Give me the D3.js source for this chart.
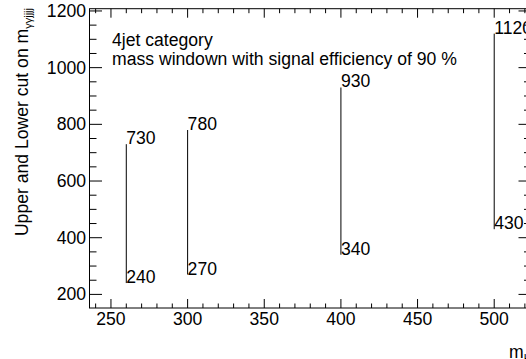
<!DOCTYPE html>
<html>
<head>
<meta charset="utf-8">
<script src="https://cdn.jsdelivr.net/npm/d3@7"></script>
<style>
  body { margin: 0; background: #fff; }
  text { font-family: "Liberation Sans", Arial, sans-serif; fill: #000; }
</style>
</head>
<body>
<div class="canvas"></div>
<script>
// mass points and cut values
const masses = [260, 300, 400, 500];
const lowerCut = [240, 270, 340, 430];
const upperCut = [730, 780, 930, 1120];
const xTicks = [250, 300, 350, 400, 450, 500];
const yTicks = [200, 400, 600, 800, 1000, 1200];
const textLines = ['4jet category', 'mass windown with signal efficiency of 90 %'];

const dim = { width: 526, height: 359 };
const frame = { left: 89.5, right: 531, top: 8.7, bottom: 308 };
const fs = '17.6px';

const svg = d3.select('.canvas').append('svg')
    .attr('width', dim.width)
    .attr('height', dim.height);

const x = d3.scaleLinear().domain([236, 524]).range([frame.left, frame.right]);
const y = d3.scaleLinear().domain([152, 1208]).range([frame.bottom, frame.top]);

// frame
svg.append('rect')
    .attr('x', frame.left).attr('y', frame.top)
    .attr('width', frame.right - frame.left)
    .attr('height', frame.bottom - frame.top)
    .attr('fill', 'none').attr('stroke', '#000').attr('stroke-width', 1);

// ticks: major + minor on all four sides, pointing inward
const xMinor = d3.range(240, 525, 10);
const yMinor = d3.range(200, 1208, 50);
const ticks = svg.append('g').attr('stroke', '#000').attr('stroke-width', 1);

xMinor.forEach(v => {
    const len = v % 50 === 0 ? 9 : 4.5;
    ticks.append('line').attr('x1', x(v)).attr('x2', x(v))
        .attr('y1', frame.bottom).attr('y2', frame.bottom - len);
    ticks.append('line').attr('x1', x(v)).attr('x2', x(v))
        .attr('y1', frame.top).attr('y2', frame.top + len);
});
yMinor.forEach(v => {
    const len = v % 200 === 0 ? 12.5 : 7;
    ticks.append('line').attr('y1', y(v)).attr('y2', y(v))
        .attr('x1', frame.left).attr('x2', frame.left + len);
    ticks.append('line').attr('y1', y(v)).attr('y2', y(v))
        .attr('x1', frame.right).attr('x2', frame.right - len);
});

// tick labels
svg.append('g').selectAll('text').data(xTicks).enter().append('text')
    .attr('x', d => x(d)).attr('y', 325)
    .attr('text-anchor', 'middle')
    .style('font-size', fs)
    .text(d => d);

svg.append('g').selectAll('text').data(yTicks).enter().append('text')
    .attr('x', 86).attr('y', d => y(d) + 6)
    .attr('text-anchor', 'end')
    .style('font-size', fs)
    .text(d => d);

// axis titles
const yTitle = svg.append('text')
    .attr('transform', 'translate(28, 8) rotate(-90)')
    .attr('text-anchor', 'end')
    .style('font-size', fs);
yTitle.append('tspan').text('Upper and Lower cut on m');
yTitle.append('tspan').attr('dy', 4).style('font-size', '11px').text('γγjjjj');

const xTitle = svg.append('text')
    .attr('x', 509).attr('y', 358)
    .style('font-size', fs);
xTitle.append('tspan').text('m');
xTitle.append('tspan').attr('dy', 4).style('font-size', '11px').text('H');

// mass window segments
const data = masses.map((m, i) => ({ m, lo: lowerCut[i], hi: upperCut[i] }));
const graph = svg.append('g');

graph.selectAll('line').data(data).enter().append('line')
    .attr('x1', d => x(d.m)).attr('x2', d => x(d.m))
    .attr('y1', d => y(d.lo)).attr('y2', d => y(d.hi))
    .attr('stroke', '#000').attr('stroke-width', 1);

graph.selectAll('text.hi').data(data).enter().append('text')
    .attr('class', 'hi')
    .attr('x', d => x(d.m)).attr('y', d => y(d.hi))
    .style('font-size', fs)
    .text(d => d.hi);

graph.selectAll('text.lo').data(data).enter().append('text')
    .attr('class', 'lo')
    .attr('x', d => x(d.m)).attr('y', d => y(d.lo))
    .style('font-size', fs)
    .text(d => d.lo);

// legend text
svg.append('g').selectAll('text').data(textLines).enter().append('text')
    .attr('x', 112).attr('y', (d, i) => 46 + i * 19)
    .style('font-size', fs)
    .text(d => d);
</script>
</body>
</html>
